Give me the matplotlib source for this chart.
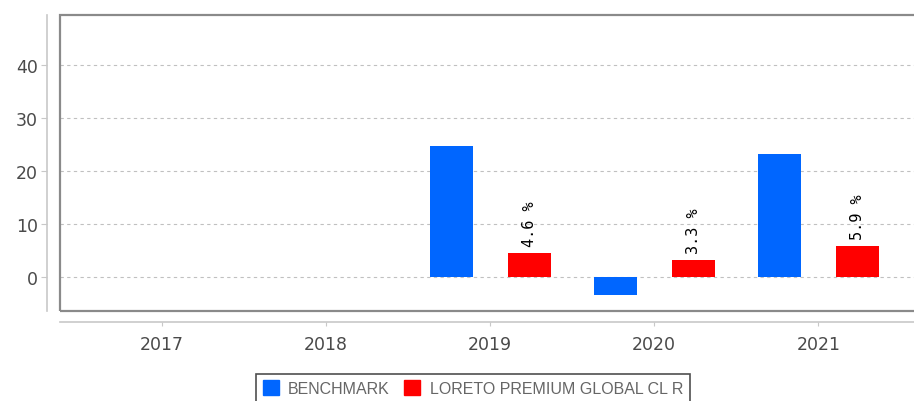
import numpy as np
import matplotlib.pyplot as plt
from matplotlib.patches import Rectangle

# %% Data
years = ['2017', '2018', '2019', '2020', '2021']
benchmark = [np.nan, np.nan, 24.7, -3.4, 23.2]
fund = [np.nan, np.nan, 4.6, 3.3, 5.9]
fund_labels = ['', '', '4.6 %', '3.3 %', '5.9 %']
y_ticks = [0, 10, 20, 30, 40]

# %% Figure
W, H = 914, 402
fig = plt.figure(figsize=(W / 100, H / 100), dpi=100)
ax = fig.add_axes([60 / W, (H - 312) / H, 860 / W, 296 / H])

x = np.arange(len(years))
bw = 0.262
off = 0.238
ax.bar(x - off, benchmark, bw, color='#0066ff', zorder=3)
ax.bar(x + off, fund, bw, color='#ff0000', zorder=3)

for xi, v, lab in zip(x, fund, fund_labels):
    if lab:
        ax.text(xi + off, v + 1.2, lab, rotation=90, ha='center', va='bottom',
                fontsize=11, family='DejaVu Sans Mono', color='black', zorder=4)

ax.set_xlim(-0.622, 4.62)
ax.set_ylim(-6.4, 49.4)
ax.set_yticks(y_ticks)
ax.set_xticks(x)
ax.set_xticklabels(years)
ax.yaxis.grid(True, linestyle=(0, (3, 3)), color='#c0c0c0', linewidth=0.8, zorder=0)

# box around plot area
ax.add_patch(Rectangle((0, 0), 1, 1, transform=ax.transAxes, fill=False,
                       edgecolor='#8a8a8a', linewidth=1.6, zorder=5, clip_on=False))

for s in ['top', 'right']:
    ax.spines[s].set_visible(False)
ax.spines['left'].set_position(('outward', 9))
ax.spines['bottom'].set_position(('outward', 8))
for s in ['left', 'bottom']:
    ax.spines[s].set_color('#c8c8c8')
    ax.spines[s].set_linewidth(1.2)

ax.tick_params(axis='y', length=4, color='#c8c8c8', labelsize=12.5,
               labelcolor='#4a4a4a', pad=3)
ax.tick_params(axis='x', length=3, color='#c8c8c8', labelsize=12.5,
               labelcolor='#4a4a4a', pad=6)

# legend
h1 = Rectangle((0, 0), 1, 1, color='#0066ff')
h2 = Rectangle((0, 0), 1, 1, color='#ff0000')
leg = fig.legend([h1, h2], ['BENCHMARK', 'LORETO PREMIUM GLOBAL CL R'],
                 loc='upper center', bbox_to_anchor=(473 / W, 27 / H),
                 ncol=2, frameon=True, fancybox=False, handlelength=1.0,
                 handleheight=1.0, handletextpad=0.6, columnspacing=0.9,
                 borderpad=0.4, borderaxespad=0,
                 prop={'family': 'Liberation Sans', 'size': 11.5})
leg.get_frame().set_edgecolor('#222222')
leg.get_frame().set_linewidth(1.2)
for t in leg.get_texts():
    t.set_color('#666666')

fig.savefig('out.png', dpi=100)
